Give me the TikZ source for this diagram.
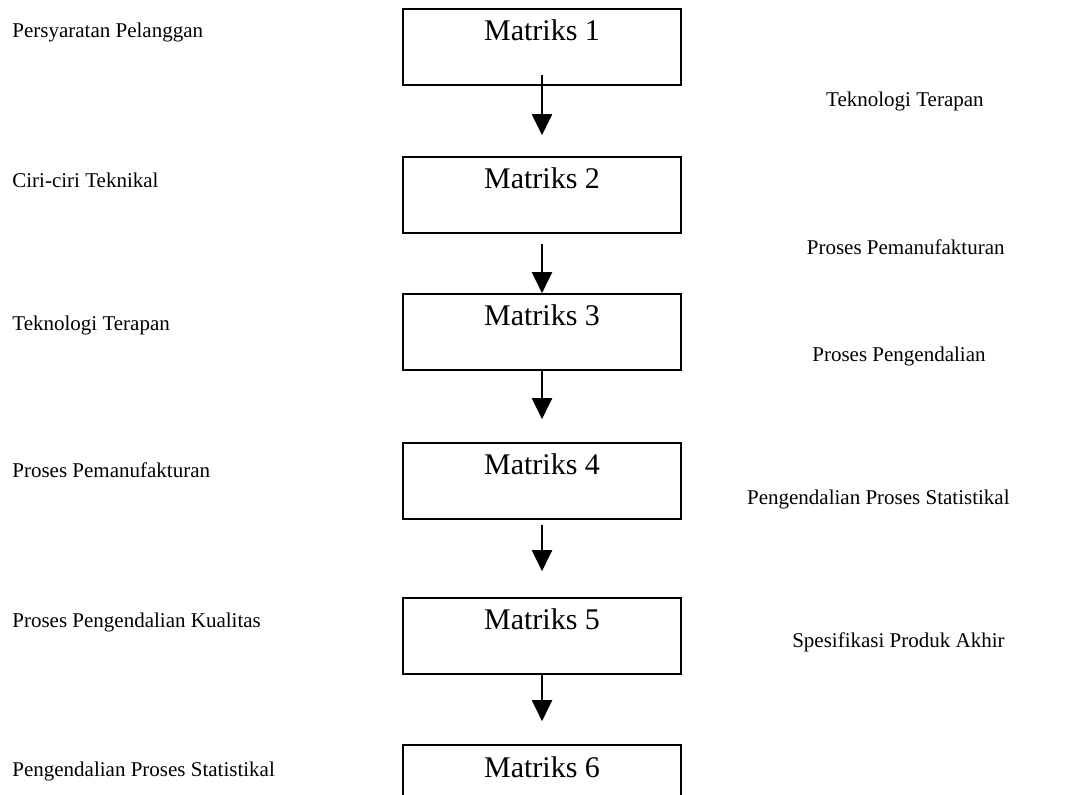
\documentclass[tikz,border=0pt]{standalone}
\usepackage{fontspec}
\setmainfont{Liberation Serif}
\usetikzlibrary{arrows.meta}

\begin{document}
\begin{tikzpicture}[x=0.5pt, y=-0.5pt, line join=miter]

  \tikzstyle{matbox}=[draw, rectangle, line width=0.8pt, minimum width=139pt,
    inner xsep=0pt, inner ysep=0pt, text height=16pt, text depth=22pt,
    font=\fontsize{15}{18}\selectfont]
  \tikzstyle{lbl}=[inner sep=0pt, text height=8pt, text depth=1pt,
    font=\fontsize{10.5}{13}\selectfont]
  \tikzstyle{flow}=[line width=1pt, -{Triangle[width=10pt, length=10.5pt]}]

  \useasboundingbox (0,0) rectangle (1086,795);

  \def\cx{542}
  \def\lx{12}

  % the six matrices
  \node[matbox] (mat1) at (\cx,47)  {Matriks 1};
  \node[matbox] (mat2) at (\cx,195) {Matriks 2};
  \node[matbox] (mat3) at (\cx,332) {Matriks 3};
  \node[matbox] (mat4) at (\cx,481) {Matriks 4};
  \node[matbox] (mat5) at (\cx,636) {Matriks 5};
  \node[matbox] (mat6) at (\cx,783) {Matriks 6};

  \draw[flow, shorten >=10.5pt] ([yshift=5.5pt]mat1.south) -- (mat2.north);
  \draw[flow, shorten <=5pt]    (mat2.south) -- (mat3.north);
  \draw[flow, shorten >=11.5pt] (mat3.south) -- (mat4.north);
  \draw[flow, shorten <=2.5pt, shorten >=13pt] (mat4.south) -- (mat5.north);
  \draw[flow, shorten >=11.5pt] (mat5.south) -- (mat6.north);

  % inputs, left
  \node[lbl, anchor=west] (in1) at (\lx,31)  {Persyaratan Pelanggan};
  \node[lbl, anchor=west] (in2) at (\lx,181) {Ciri-ciri Teknikal};
  \node[lbl, anchor=west] (in3) at (\lx,324) {Teknologi Terapan};
  \node[lbl, anchor=west] (in4) at (\lx,471) {Proses Pemanufakturan};
  \node[lbl, anchor=west] (in5) at (\lx,621) {Proses Pengendalian Kualitas};
  \node[lbl, anchor=west] (in6) at (\lx,769) {Pengendalian Proses Statistikal};

  % outputs, right
  \node[lbl, anchor=east] (out1) at (984,100)  {Teknologi Terapan};
  \node[lbl, anchor=east] (out2) at (1005,248) {Proses Pemanufakturan};
  \node[lbl, anchor=east] (out3) at (986,355)  {Proses Pengendalian};
  \node[lbl, anchor=east] (out4) at (1010,498) {Pengendalian Proses Statistikal};
  \node[lbl, anchor=east] (out5) at (1005,640) {Spesifikasi Produk Akhir};

\end{tikzpicture}
\end{document}
